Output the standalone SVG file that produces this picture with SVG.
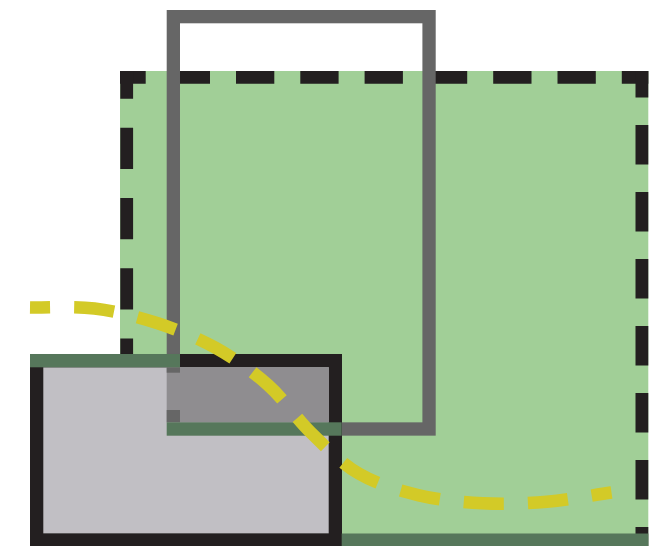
<svg xmlns="http://www.w3.org/2000/svg" width="667" height="546" viewBox="0 0 667 546">
  <style>
    .dash { stroke: #231f20; stroke-width: 12.8; fill: none; }
    .gray { fill: #666666; }
    .dkgreen { fill: #56775b; }
  </style>
  <rect x="0" y="0" width="667" height="546" fill="#ffffff"/>
  <g id="green-area">
    <rect x="120" y="71" width="528.3" height="475" fill="#a1cf97"/>
    <line class="dash" x1="120" y1="77.4" x2="648.3" y2="77.4" stroke-dasharray="38.3 26" stroke-dashoffset="12.6"/>
    <line class="dash" x1="126.7" y1="71" x2="126.7" y2="546" stroke-dasharray="41.3 29" stroke-dashoffset="13.6"/>
    <line class="dash" x1="641.9" y1="71" x2="641.9" y2="546" stroke-dasharray="39.6 27.4" stroke-dashoffset="13"/>
  </g>
  <g id="gray-frame">
    <rect x="173.35" y="16.65" width="255.7" height="412.35" fill="none" stroke="#666666" stroke-width="13.3"/>
  </g>
  <g id="black-box">
    <rect x="36.65" y="360.65" width="298.7" height="179.35" fill="#c1bfc4" stroke="#231f20" stroke-width="13.3"/>
    <rect x="166.7" y="367.3" width="162.3" height="55" fill="#8f8d90"/>
    <rect class="gray" x="166.7" y="367.3" width="13.3" height="5.4"/>
    <rect class="gray" x="166.7" y="410" width="13.3" height="12.3"/>
  </g>
  <g id="green-bars">
    <rect class="dkgreen" x="30" y="354" width="150" height="13.3"/>
    <rect class="dkgreen" x="166.7" y="422.3" width="175" height="13.4"/>
    <rect class="dkgreen" x="341.7" y="533.5" width="306.6" height="12.5"/>
  </g>
  <g id="connectors">
    <path d="M30,307.5 C51.5,307.8 73.3,305.9 94.5,308.5 C115.7,311.1 136.8,316.5 157,323 C177.2,329.6 197,337.5 215.5,347.8 C234,358.1 252.1,370.9 268,385 C283.9,399.1 295.6,417.7 310.8,432.5 C326,447.3 341,463.2 359,473.7 C377,484.2 398.4,490.4 419,495.3 C439.6,500.2 461.2,502.1 482.5,503.2 C503.8,504.3 525.5,503.5 547,501.7 C568.5,499.9 590,495.6 611.5,492.5" fill="none" stroke="#d3ca27" stroke-width="12.5" stroke-dasharray="40 24" stroke-dashoffset="20" pathLength="640"/>
  </g>
</svg>
